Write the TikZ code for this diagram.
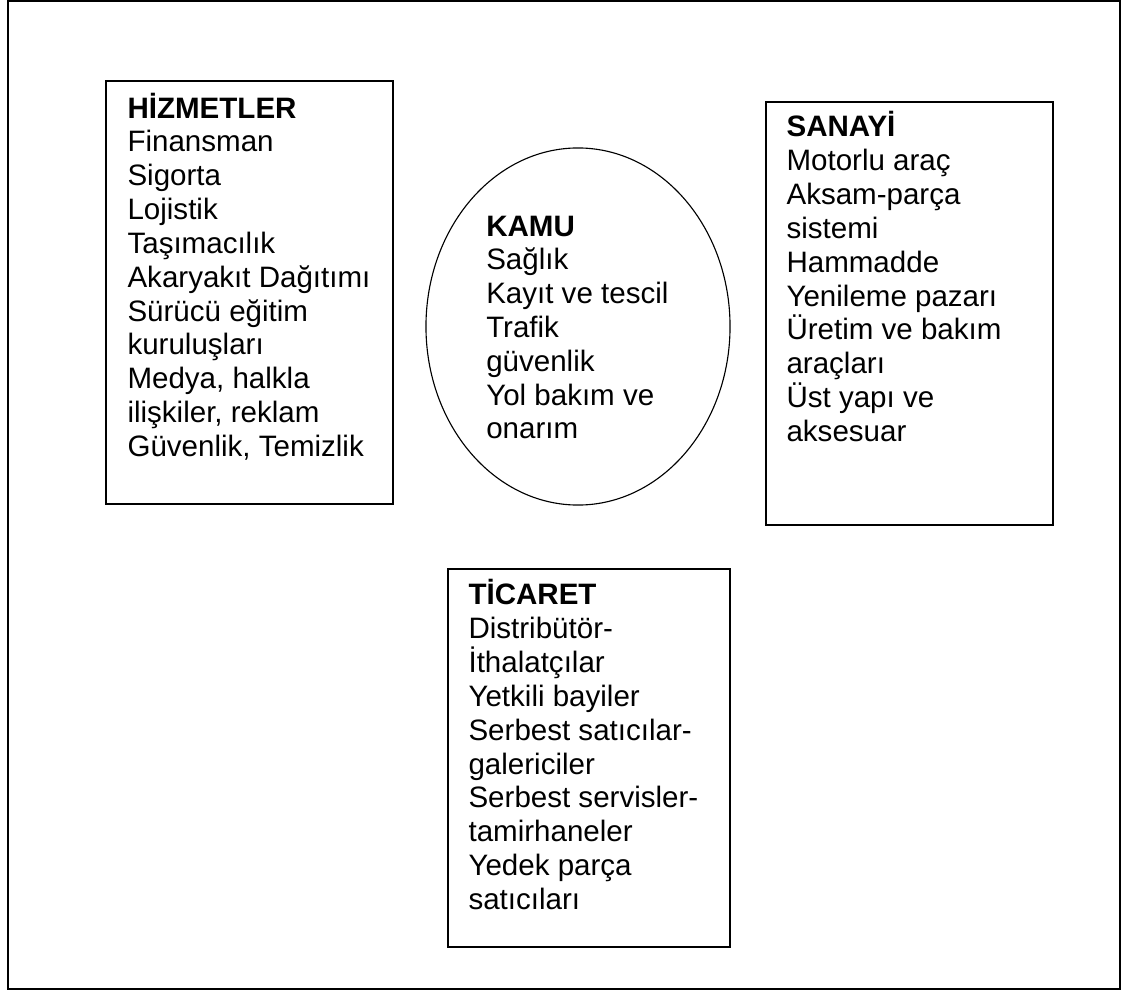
\documentclass[tikz,border=0pt]{standalone}
\usepackage{fontspec}
\setmainfont{Liberation Sans}
\usetikzlibrary{positioning,shapes.geometric}
\tikzset{
  kutu/.style={draw, line width=1pt, rectangle, inner sep=0pt},
  oval/.style={draw, line width=.8pt, ellipse, inner sep=0pt},
  liste/.style={align=left, inner sep=0pt, anchor=base west,
    font=\fontsize{21}{24.05}\selectfont},
}
\begin{document}
\begin{tikzpicture}[x=0.025cm, y=-0.025cm]
  \useasboundingbox (0,0) rectangle (1124,992);
  \draw[line width=1.2pt] (8,1) rectangle (1120,989);
  % kutular
  \node[kutu, minimum width=7.175cm, minimum height=10.575cm] (hizmet) at (249.5,292.5) {};
  \node[kutu, minimum width=7.175cm, minimum height=10.575cm] (sanayi) at (909.5,313.5) {};
  \node[kutu, minimum width=7.05cm, minimum height=9.45cm] (ticaret) at (589,758) {};
  \node[oval, minimum width=7.6cm, minimum height=8.925cm] (kamu) at (578,326.5) {};
  % metinler (base = son satir)
  \node[liste, xshift=.55cm, yshift=-9.4cm] (hizmetmetin) at (hizmet.north west)
    {\textbf{HİZMETLER}\\Finansman\\Sigorta\\Lojistik\\Taşımacılık\\Akaryakıt Dağıtımı\\
     Sürücü eğitim\\kuruluşları\\Medya, halkla\\ilişkiler, reklam\\Güvenlik, Temizlik};
  \node[liste, xshift=-2.3cm, yshift=-2.81cm] (kamumetin) at (kamu.center)
    {\textbf{KAMU}\\Sağlık\\Kayıt ve tescil\\Trafik\\güvenlik\\Yol bakım ve\\onarım};
  \node[liste, xshift=.525cm, yshift=-8.5cm] (sanayimetin) at (sanayi.north west)
    {\textbf{SANAYİ}\\Motorlu araç\\Aksam-parça\\sistemi\\Hammadde\\Yenileme pazarı\\
     Üretim ve bakım\\araçları\\Üst yapı ve\\aksesuar};
  \node[liste, xshift=.525cm, yshift=-8.525cm] (ticaretmetin) at (ticaret.north west)
    {\textbf{TİCARET}\\Distribütör-\\İthalatçılar\\Yetkili bayiler\\Serbest satıcılar-\\
     galericiler\\Serbest servisler-\\tamirhaneler\\Yedek parça\\satıcıları};
\end{tikzpicture}
\end{document}
